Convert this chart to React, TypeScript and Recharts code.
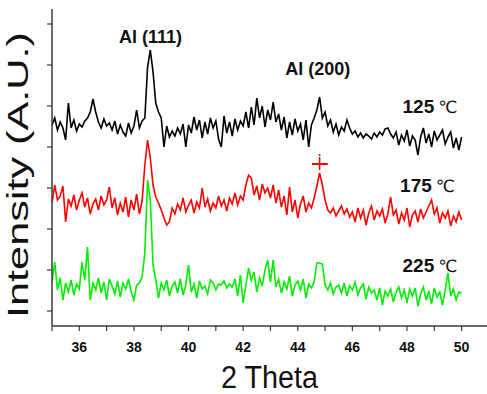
import React from 'react';
import { LineChart, Line, XAxis, YAxis, ReferenceLine, ReferenceDot, Label } from 'recharts';

// 2-theta grid: 35.0 .. 50.0, step 0.1
const THETA_START = 35;
const THETA_STEP = 0.1;

// intensities (arbitrary units, offset per curve)
const black125 = [
  201, 208, 196, 204, 198, 186, 223, 198, 206, 195,
  202, 199, 205, 208, 214, 227, 214, 204, 198, 207,
  200, 203, 196, 205, 192, 201, 194, 190, 203, 193,
  200, 216, 198, 205, 208, 259, 276, 254, 223, 214,
  208, 179, 200, 189, 195, 190, 198, 192, 202, 179,
  201, 193, 209, 196, 206, 188, 204, 192, 208, 198,
  205, 187, 179, 210, 193, 204, 190, 207, 196, 205,
  200, 214, 198, 219, 201, 228, 208, 220, 199, 216,
  206, 224, 204, 212, 196, 209, 188, 204, 191, 207,
  195, 202, 186, 206, 179, 201, 208, 216, 229, 208,
  214, 200, 206, 194, 202, 191, 199, 195, 206, 198,
  192, 195, 189, 193, 188, 192, 190, 187, 193, 189,
  194, 191, 197, 198, 192, 188, 194, 181, 191, 185,
  196, 180, 190, 186, 171, 189, 198, 183, 192, 179,
  195, 186, 191, 196, 182, 189, 194, 178, 188, 176,
  189,
];

const red175 = [
  123, 141, 126, 130, 140, 104, 127, 120, 131, 116,
  126, 133, 119, 128, 112, 122, 127, 116, 130, 121,
  126, 139, 118, 128, 111, 123, 114, 129, 109, 126,
  116, 132, 112, 125, 161, 186, 168, 141, 129, 123,
  116, 108, 101, 104, 118, 112, 122, 116, 128, 114,
  121, 126, 113, 124, 118, 138, 119, 127, 115, 123,
  118, 130, 120, 126, 115, 128, 122, 133, 121, 130,
  126, 141, 151, 148, 131, 140, 126, 142, 133, 138,
  128, 141, 123, 136, 119, 130, 111, 139, 114, 126,
  108, 122, 130, 114, 123, 118, 128, 140, 153, 141,
  126, 116, 113, 118, 110, 115, 120, 112, 117, 109,
  114, 104, 118, 108, 116, 101, 113, 120, 106, 115,
  110, 117, 103, 112, 129, 111, 116, 102, 113, 106,
  118, 99, 111, 115, 104, 117, 108, 114, 120, 126,
  112, 118, 103, 113, 108, 115, 100, 110, 104, 114,
  106,
];

const green225 = [
  44, 64, 36, 48, 26, 43, 34, 46, 31, 42,
  37, 64, 46, 79, 26, 43, 36, 48, 33, 44,
  26, 47, 40, 32, 45, 29, 43, 37, 47, 34,
  26, 41, 43, 49, 73, 146, 126, 61, 46, 28,
  43, 36, 46, 30, 40, 44, 33, 47, 31, 41,
  61, 34, 42, 28, 45, 37, 40, 32, 46, 43,
  36, 42, 41, 45, 38, 42, 39, 47, 30, 51,
  23, 41, 58, 46, 54, 34, 48, 40, 56, 66,
  44, 66, 39, 47, 33, 44, 37, 50, 30, 41,
  45, 36, 47, 28, 42, 38, 44, 63, 63, 62,
  41, 36, 43, 32, 39, 41, 33, 43, 30, 40,
  36, 44, 31, 38, 42, 27, 39, 33, 36, 26,
  38, 21, 35, 30, 37, 24, 34, 39, 28, 36,
  23, 37, 30, 38, 20, 32, 39, 26, 35, 22,
  38, 29, 34, 21, 36, 53, 30, 37, 26, 34,
  33,
];

const xTicks = [35, 36, 37, 38, 39, 40, 41, 42, 43, 44, 45, 46, 47, 48, 49, 50];
const yTicks = [15, 56, 97, 138, 179, 220, 261, 302];

const peakNotes = [
  { text: 'Al (111)', theta: 38.61, level: 289 },
  { text: 'Al (200)', theta: 44.73, level: 257 },
];
const tempNotes = [
  { text: '125', theta: 48.84, level: 220 },
  { text: '175', theta: 48.75, level: 141 },
  { text: '225', theta: 48.84, level: 61 },
];

const rows = black125.map((v, i) => ({
  theta: +(THETA_START + i * THETA_STEP).toFixed(1),
  s125: v,
  s175: red175[i],
  s225: green225[i],
}));

const FONT = '"Liberation Sans", Arial, sans-serif';
const AXIS = '#3a3a3a';
const X_DOMAIN: [number, number] = [35, 50.93];
const Y_DOMAIN: [number, number] = [0, 317];

function XTick(props: any) {
  const { x, y, payload } = props;
  if (payload.value % 2 !== 0) return <g />;
  return (
    <text x={x} y={y + 19} textAnchor="middle" fontFamily={FONT} fontWeight="bold" fontSize={14} fill="#111">
      {payload.value}
    </text>
  );
}

function PeakLabel(text: string) {
  return (p: any) => {
    const { x, y } = p.viewBox;
    return (
      <text x={x} y={y + 6} textAnchor="middle" fontFamily={FONT} fontWeight="bold" fontSize={18} fill="#111">
        {text}
      </text>
    );
  };
}

function TempLabel(text: string) {
  return (p: any) => {
    const { x, y } = p.viewBox;
    return (
      <text x={x} y={y + 7} textAnchor="middle" fontFamily={FONT} fill="#111">
        <tspan fontWeight="bold" fontSize={19}>{text}</tspan>
        <tspan fontSize={17} fontFamily={'"DejaVu Sans", sans-serif'} fontWeight="normal" dx={4}>℃</tspan>
      </text>
    );
  };
}

export default function App() {
  return (
    <div style={{ position: 'absolute', left: 0, top: 0, background: '#fff' }}>
      <LineChart width={487} height={394} data={rows} margin={{ top: 9, right: 0, bottom: 0, left: 0 }}>
        <XAxis
          xAxisId="bottom"
          dataKey="theta"
          type="number"
          domain={X_DOMAIN}
          allowDataOverflow
          ticks={xTicks}
          interval={0}
          tickSize={5}
          tickMargin={2}
          height={68}
          axisLine={{ stroke: AXIS, strokeWidth: 1.5 }}
          tickLine={{ stroke: AXIS, strokeWidth: 1.2 }}
          tick={(p: any) => <XTick {...p} />}
        >
          <Label
            content={(p: any) => {
              const vb = p.viewBox;
              return (
                <text
                  x={vb.x + vb.width / 2}
                  y={vb.y + 62}
                  textAnchor="middle"
                  fontFamily={FONT}
                  fontSize={31}
                  textLength={97}
                  lengthAdjust="spacingAndGlyphs"
                  fill="#111"
                >
                  2 Theta
                </text>
              );
            }}
          />
        </XAxis>
        <XAxis
          xAxisId="top"
          orientation="top"
          type="number"
          domain={X_DOMAIN}
          allowDataOverflow
          ticks={xTicks}
          interval={0}
          mirror
          height={0}
          tickSize={5}
          tick={false}
          axisLine={{ stroke: AXIS, strokeWidth: 1.5 }}
          tickLine={{ stroke: AXIS, strokeWidth: 1.2 }}
        />
        <YAxis
          yAxisId="left"
          type="number"
          domain={Y_DOMAIN}
          allowDataOverflow
          ticks={yTicks}
          interval={0}
          width={52}
          tickSize={5}
          tick={(p: any) => <g />}
          axisLine={{ stroke: AXIS, strokeWidth: 1.5 }}
          tickLine={{ stroke: AXIS, strokeWidth: 1.2 }}
        >
          <Label
            content={(p: any) => {
              const vb = p.viewBox;
              const cx = vb.x + 28;
              const cy = vb.y + 166;
              return (
                <text
                  transform={`translate(${cx},${cy}) rotate(-90)`}
                  textAnchor="middle"
                  fontFamily={FONT}
                  fontSize={29}
                  textLength={286}
                  lengthAdjust="spacingAndGlyphs"
                  fill="#111"
                >
                  Intensity (A.U.)
                </text>
              );
            }}
          />
        </YAxis>
        <YAxis
          yAxisId="right"
          orientation="right"
          type="number"
          domain={Y_DOMAIN}
          allowDataOverflow
          ticks={yTicks}
          interval={0}
          width={0}
          mirror
          tickSize={5}
          tick={false}
          axisLine={{ stroke: AXIS, strokeWidth: 1.5 }}
          tickLine={{ stroke: AXIS, strokeWidth: 1.2 }}
        />

        <Line xAxisId="bottom" yAxisId="left" type="linear" dataKey="s125" stroke="#000000" strokeWidth={1.6} dot={false} isAnimationActive={false} />
        <Line xAxisId="bottom" yAxisId="left" type="linear" dataKey="s175" stroke="#ff0000" strokeWidth={1.6} dot={false} isAnimationActive={false} />
        <Line xAxisId="bottom" yAxisId="left" type="linear" dataKey="s225" stroke="#00ee00" strokeWidth={1.6} dot={false} isAnimationActive={false} />

        {/* red marker above the Al (200) peak of the 175 C curve */}
        <ReferenceLine xAxisId="bottom" yAxisId="left" segment={[{ x: 44.8, y: 156 }, { x: 44.8, y: 169 }]} stroke="#ff0000" strokeWidth={1.5} />
        <ReferenceLine xAxisId="bottom" yAxisId="left" segment={[{ x: 44.52, y: 162 }, { x: 45.1, y: 162 }]} stroke="#ff0000" strokeWidth={2} />
        <ReferenceDot xAxisId="bottom" yAxisId="left" x={44.8} y={171} r={1} fill="#ff0000" stroke="none" />

        {peakNotes.map((n) => (
          <ReferenceDot key={n.text} xAxisId="bottom" yAxisId="left" x={n.theta} y={n.level} r={0} stroke="none" fill="none" label={{ content: PeakLabel(n.text) }} />
        ))}
        {tempNotes.map((n) => (
          <ReferenceDot key={n.text} xAxisId="bottom" yAxisId="left" x={n.theta} y={n.level} r={0} stroke="none" fill="none" label={{ content: TempLabel(n.text) }} />
        ))}
      </LineChart>
    </div>
  );
}
